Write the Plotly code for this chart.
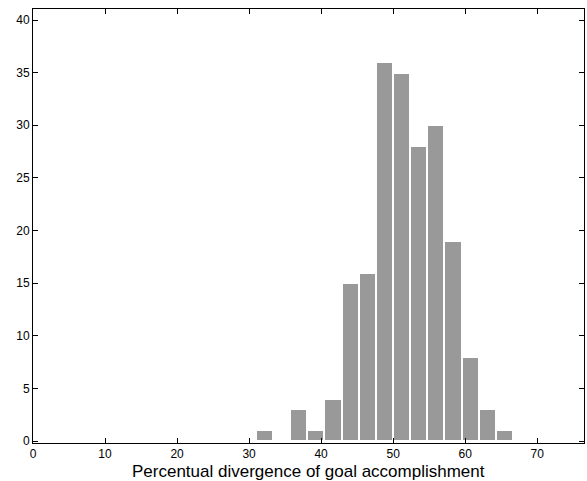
import plotly.graph_objects as go

# Histogram data: 32 equal bins starting at 0
bin_width = 2.38
counts = [0, 0, 0, 0, 0, 0, 0, 0, 0, 0, 0, 0, 0,
          1, 0, 3, 1, 4, 15, 16, 36, 35, 28, 30, 19, 8, 3, 1,
          0, 0, 0, 0]
bin_centers = [(i + 0.5) * bin_width for i in range(len(counts))]

x_ticks = [0, 10, 20, 30, 40, 50, 60, 70]
y_ticks = [0, 5, 10, 15, 20, 25, 30, 35, 40]
x_title = "Percentual divergence of goal accomplishment"

FONT = "Liberation Sans, Arial, sans-serif"

fig = go.Figure()
fig.add_trace(go.Bar(
    x=bin_centers, y=counts, width=bin_width,
    marker=dict(color="#999999", line=dict(color="white", width=2)),
    hoverinfo="x+y",
))

axis_common = dict(
    showline=True, linecolor="black", linewidth=1, mirror="ticks",
    ticks="inside", ticklen=5, tickwidth=1, tickcolor="black",
    showgrid=False, zeroline=False, automargin=False,
    tickfont=dict(family=FONT, size=12, color="black"),
)

fig.update_layout(
    width=587, height=481,
    margin=dict(l=33, r=3, t=9, b=38, autoexpand=False),
    plot_bgcolor="white", paper_bgcolor="white",
    bargap=0, showlegend=False,
    xaxis=dict(range=[0, 76.5], tickvals=x_ticks, ticklabelstandoff=0, **axis_common),
    yaxis=dict(range=[-0.19, 41.05], tickvals=y_ticks, **axis_common),
    annotations=[dict(
        text=x_title, xref="paper", yref="paper", x=0.5, y=0,
        xanchor="center", yanchor="top", yshift=-17, showarrow=False,
        font=dict(family=FONT, size=17, color="black"),
    )],
)

fig.write_html("out.html",
               config={"displayModeBar": False},
               post_script="document.body.style.margin='0';document.body.style.overflow='hidden';")
